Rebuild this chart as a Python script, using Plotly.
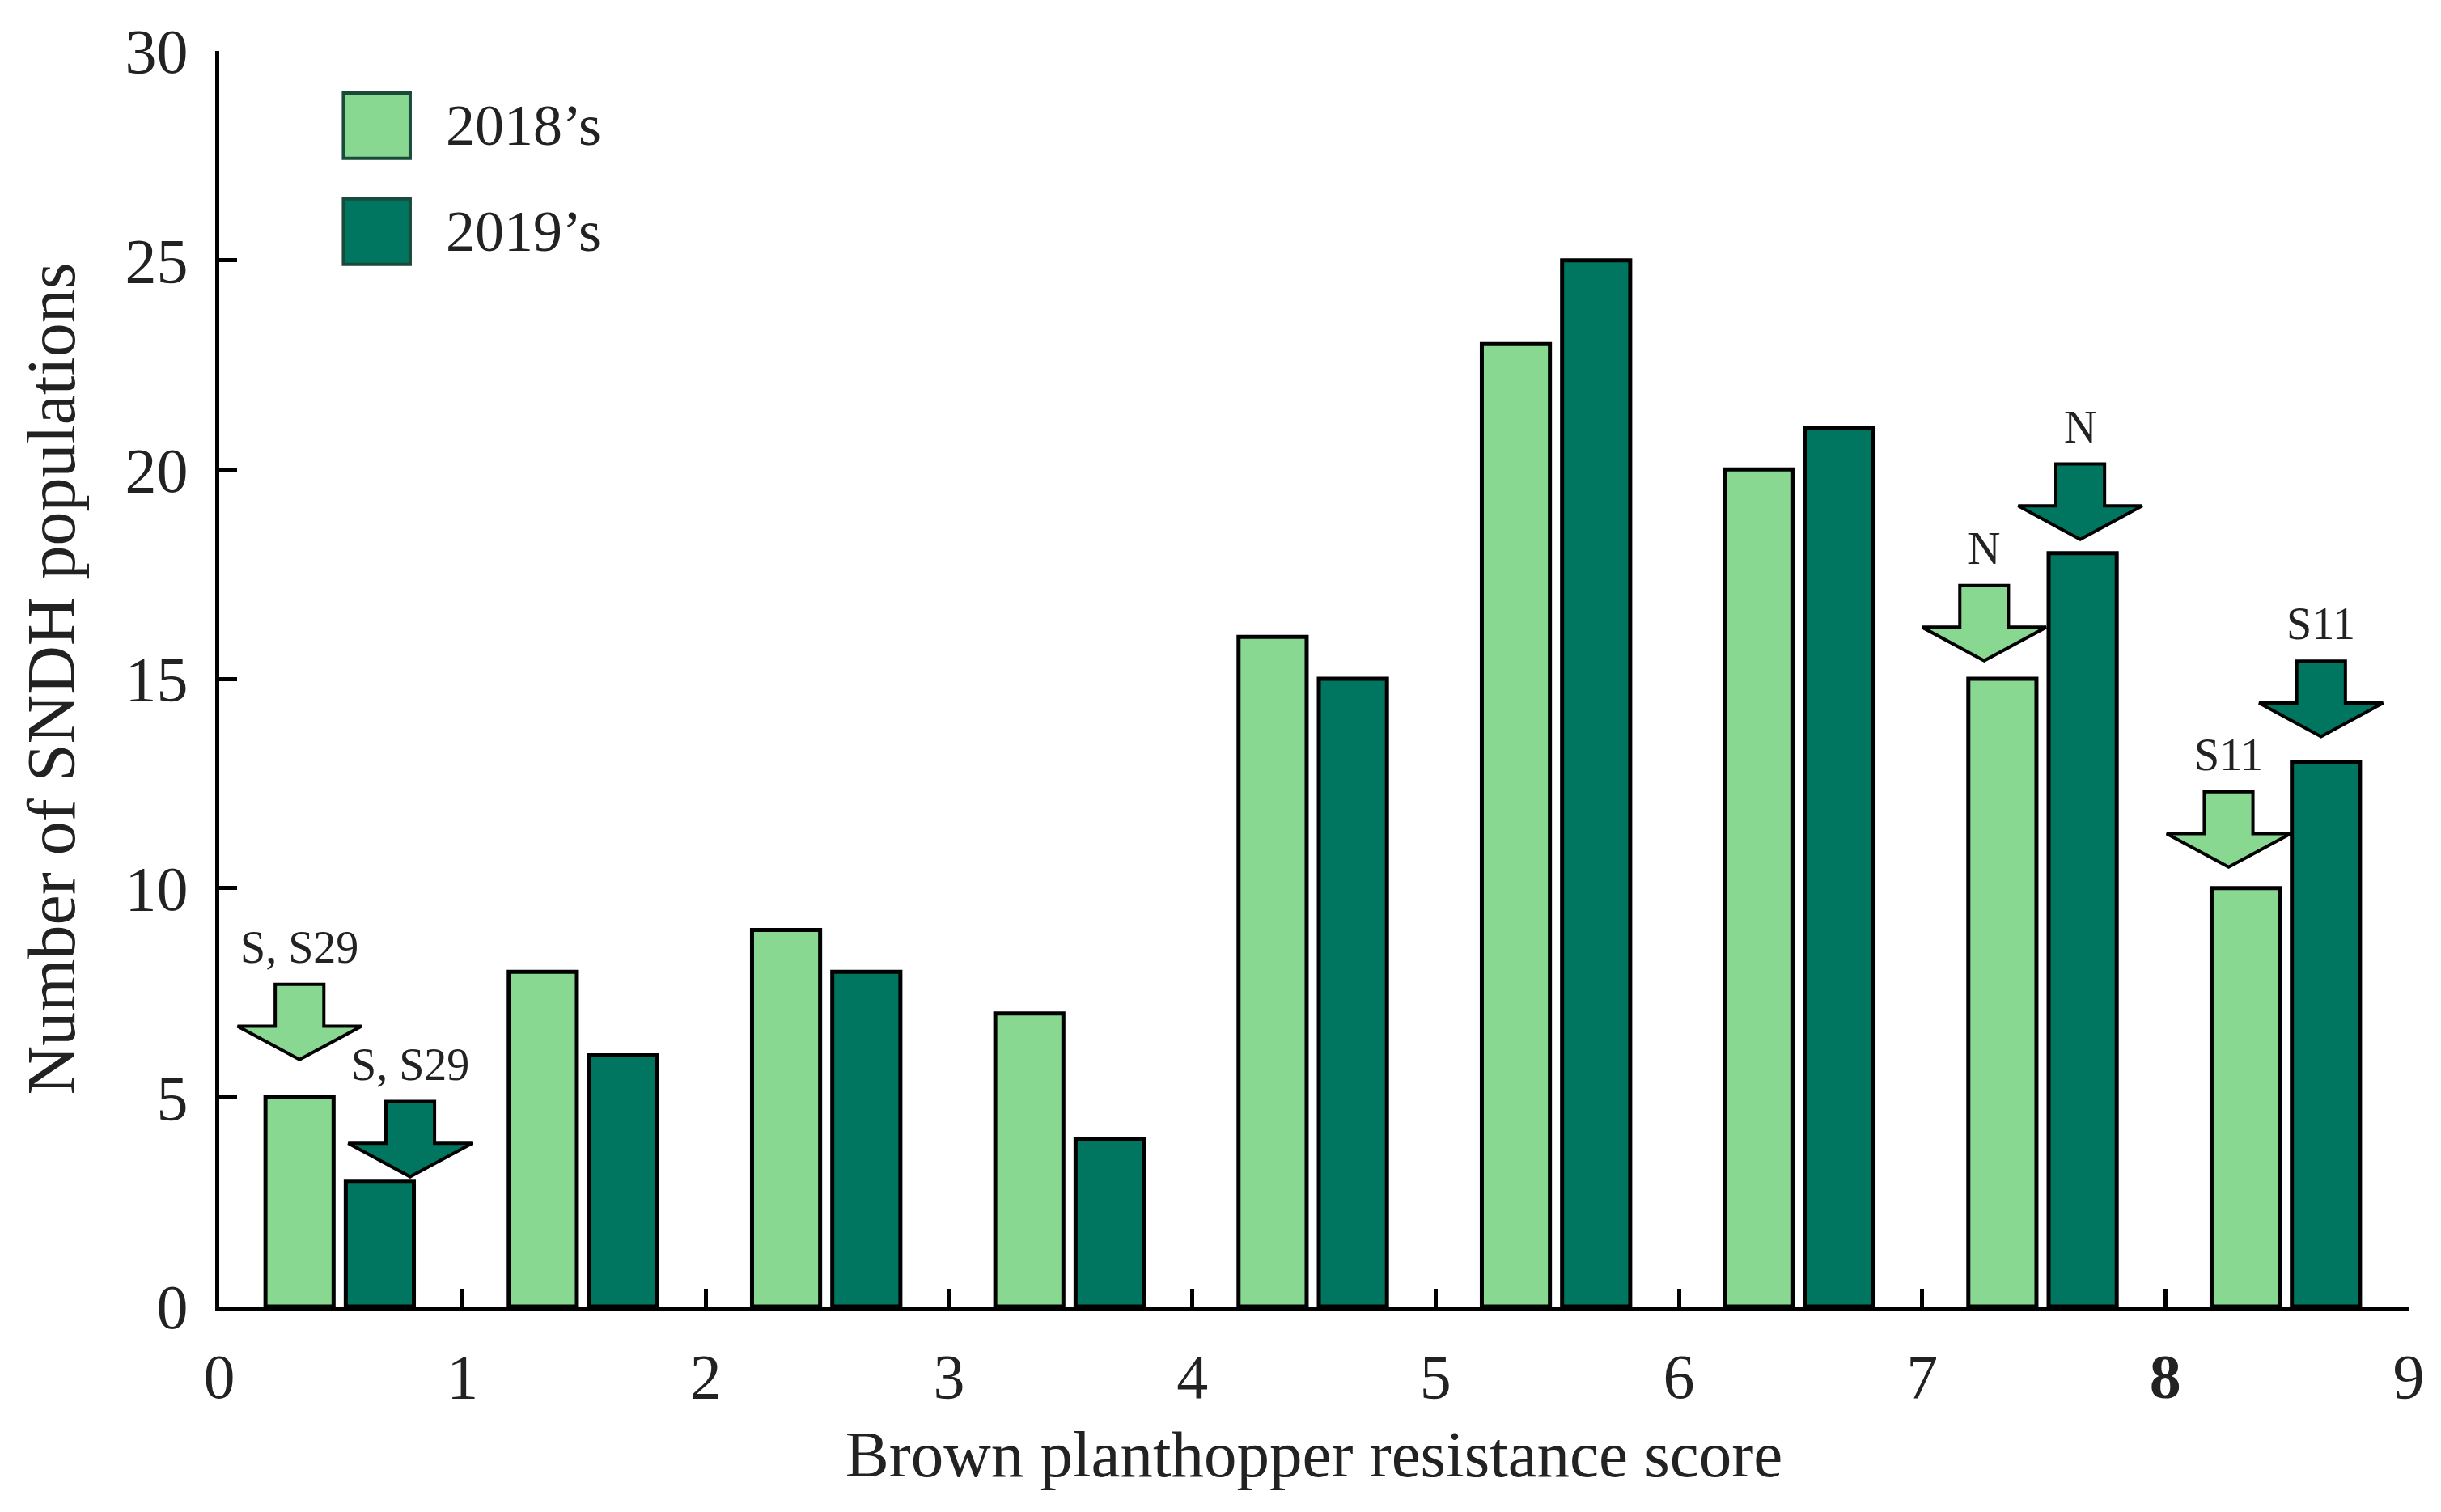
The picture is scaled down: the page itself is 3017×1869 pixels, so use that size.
import plotly.graph_objects as go

# ---- data ----
scores = [0, 1, 2, 3, 4, 5, 6, 7, 8]
counts_2018 = [5, 8, 9, 7, 16, 23, 20, 15, 10]
counts_2019 = [3, 6, 8, 4, 15, 25, 21, 18, 13]
series_names = ["2018\u2019s", "2019\u2019s"]
x_tick_vals = [0, 1, 2, 3, 4, 5, 6, 7, 8, 9]
x_tick_text = ["0", "1", "2", "3", "4", "5", "6", "7", "<b>8</b>", "9"]
y_tick_vals = [0, 5, 10, 15, 20, 25, 30]
x_title = "Brown planthopper resistance score"
y_title = "Number of SNDH populations"

# arrow callouts: (series index, score, label)
callout_series = [0, 1, 0, 1, 0, 1]
callout_scores = [0, 0, 7, 7, 8, 8]
callout_labels = ["S, S29", "S, S29", "N", "N", "S11", "S11"]

# ---- style ----
LIGHT = "#88D891"
DARK = "#007660"
FONT = "Liberation Serif"
TXT = "#222222"
bar_offsets = [0.19, 0.52]
bar_width = 0.28
# per callout style tweaks: horizontal shift of arrow from bar centre, gap above bar
arrow_dx = [0.0, 0.125, -0.075, -0.01, -0.07, -0.02]
arrow_gap = [0.9, 0.1, 0.43, 0.33, 0.5, 0.62]
head_h, shaft_h = 0.8, 1.0
head_hw, shaft_hw = 0.255, 0.1

colors = [LIGHT, DARK]
values = [counts_2018, counts_2019]

fig = go.Figure()
for k in range(2):
    fig.add_trace(go.Bar(
        x=scores, y=values[k], name=series_names[k],
        offset=bar_offsets[k], width=bar_width,
        marker=dict(color=colors[k], line=dict(color="black", width=5)),
        showlegend=False,
    ))

shapes = []
annotations = []
for s, sc, lab, dx, gap in zip(callout_series, callout_scores, callout_labels, arrow_dx, arrow_gap):
    xc = sc + bar_offsets[s] + bar_width / 2 + dx
    tip = values[s][scores.index(sc)] + gap
    ht = tip + head_h
    st = ht + shaft_h
    path = (f"M {xc-shaft_hw},{st} L {xc+shaft_hw},{st} L {xc+shaft_hw},{ht} "
            f"L {xc+head_hw},{ht} L {xc},{tip} L {xc-head_hw},{ht} "
            f"L {xc-shaft_hw},{ht} Z")
    shapes.append(dict(type="path", path=path, xref="x", yref="y",
                       fillcolor=colors[s], line=dict(color="black", width=4), layer="above"))
    annotations.append(dict(x=xc, y=st + 0.25, xref="x", yref="y", text=lab,
                            showarrow=False, yanchor="bottom",
                            font=dict(family=FONT, size=56, color=TXT)))

# legend drawn as boxes + text
leg_y = [(0.9145, 0.9665), (0.830, 0.8823)]
for k in range(2):
    y0, y1 = leg_y[k]
    shapes.append(dict(type="rect", xref="paper", yref="paper",
                       x0=0.0567, x1=0.0872, y0=y0, y1=y1,
                       fillcolor=colors[k], line=dict(color="#1a4a3a", width=4)))
    annotations.append(dict(x=0.1028, y=(y0 + y1) / 2, xref="paper", yref="paper",
                            text=series_names[k], showarrow=False,
                            xanchor="left", yanchor="middle",
                            font=dict(family=FONT, size=72, color=TXT)))

axis_common = dict(showline=True, linecolor="black", linewidth=5,
                   ticks="inside", ticklen=22, tickwidth=5, tickcolor="black",
                   showgrid=False, zeroline=False,
                   tickfont=dict(family=FONT, size=78, color=TXT))

fig.update_layout(
    barmode="overlay",
    plot_bgcolor="white", paper_bgcolor="white",
    margin=dict(l=263, r=27, t=51, b=246),
    xaxis=dict(range=[0, 9], tickmode="array", tickvals=x_tick_vals, ticktext=x_tick_text,
               title=dict(text=x_title, font=dict(family=FONT, size=81, color=TXT), standoff=26),
               ticklabelstandoff=14, **axis_common),
    yaxis=dict(range=[0, 30], tickmode="array", tickvals=y_tick_vals,
               title=dict(text=y_title, font=dict(family=FONT, size=84, color=TXT), standoff=36),
               ticklabelstandoff=18, **axis_common),
    shapes=shapes,
    annotations=annotations,
    showlegend=False,
)

fig.write_html("out.html")
